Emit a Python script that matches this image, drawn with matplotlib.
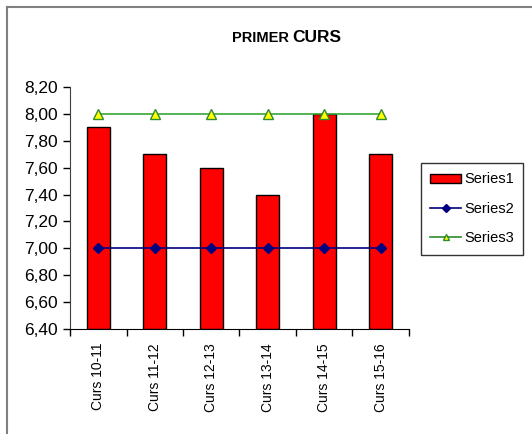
import matplotlib
matplotlib.use("Agg")
import matplotlib.pyplot as plt
from matplotlib.lines import Line2D
from matplotlib.ticker import FuncFormatter, MultipleLocator
import numpy as np

plt.rcParams['font.family'] = ['Liberation Sans', 'DejaVu Sans']

categories = ["Curs 10-11", "Curs 11-12", "Curs 12-13", "Curs 13-14", "Curs 14-15", "Curs 15-16"]
series1 = [7.9, 7.7, 7.6, 7.4, 8.0, 7.7]
series2 = [7.0, 7.0, 7.0, 7.0, 7.0, 7.0]
series3 = [8.0, 8.0, 8.0, 8.0, 8.0, 8.0]
series_names = ["Series1", "Series2", "Series3"]

W, H = 532, 434
fig = plt.figure(figsize=(W / 100, H / 100), dpi=100)
fig.patch.set_facecolor("white")

# outer chart border (left and top visible)
fig.add_artist(Line2D([7 / W, 7 / W], [0, 1 - 7 / H], color="#808080", lw=1.5, transform=fig.transFigure))
fig.add_artist(Line2D([7 / W, 1], [1 - 7 / H, 1 - 7 / H], color="#808080", lw=1.5, transform=fig.transFigure))

ax = fig.add_axes([70 / W, 1 - 329 / H, (409 - 70) / W, (329 - 87) / H])
x = np.arange(len(categories))
ymin = 6.4
b1 = ax.bar(x, np.array(series1) - ymin, bottom=ymin, width=0.41, color="#ff0000",
            edgecolor="black", linewidth=1, label=series_names[0], zorder=2)
l2, = ax.plot(x, series2, color="#000080", lw=1.2, marker="D", markersize=5.5,
              markerfacecolor="#000080", markeredgecolor="#000080", label=series_names[1], zorder=3)
l3, = ax.plot(x, series3, color="#3aa53a", lw=1.2, marker="^", markersize=7,
              markerfacecolor="#ffff00", markeredgecolor="#2e8b2e", label=series_names[2], zorder=3)

ax.set_xlim(-0.5, len(categories) - 0.5)
ax.set_ylim(6.4, 8.2)
ax.yaxis.set_major_locator(MultipleLocator(0.2))
ax.yaxis.set_major_formatter(FuncFormatter(lambda v, p: f"{v:.2f}".replace(".", ",")))
ax.tick_params(axis="y", labelsize=12.5, length=5, width=1, direction="out", pad=4)

ax.set_xticks(np.arange(-0.5, len(categories), 1.0))
ax.set_xticklabels([])
ax.set_xticks(x, minor=True)
ax.set_xticklabels(categories, minor=True, rotation=90, fontsize=10)
ax.tick_params(axis="x", which="major", length=5, width=1, direction="out")
ax.tick_params(axis="x", which="minor", length=0, pad=10)

for s in ["top", "right"]:
    ax.spines[s].set_visible(False)
ax.spines["left"].set_color("#404040")
ax.spines["bottom"].set_color("black")

fig.text(289 / W, 1 - 38 / H, "PRIMER", ha="right", va="center", fontsize=10.5, fontweight="bold")
fig.text(292 / W, 1 - 38 / H, "CURS", ha="left", va="center", fontsize=12.5, fontweight="bold")

h2 = Line2D([], [], color="#000080", lw=1.2, marker="D", markersize=4,
            markerfacecolor="#000080", markeredgecolor="#000080")
h3 = Line2D([], [], color="#2e8b2e", lw=1.2, marker="^", markersize=5,
            markerfacecolor="#ffff00", markeredgecolor="#2e8b2e")
leg = ax.legend([b1, h2, h3], series_names, loc="upper left",
                bbox_to_anchor=(421 / W, 1 - 163 / H), bbox_transform=fig.transFigure,
                fontsize=10.5, frameon=True, fancybox=False, edgecolor="black",
                handlelength=2.1, handleheight=0.6, handletextpad=0.2, labelspacing=1.05,
                borderpad=0.65, borderaxespad=0)
leg.get_frame().set_linewidth(1)

fig.savefig("out.png", dpi=100, facecolor="white")
